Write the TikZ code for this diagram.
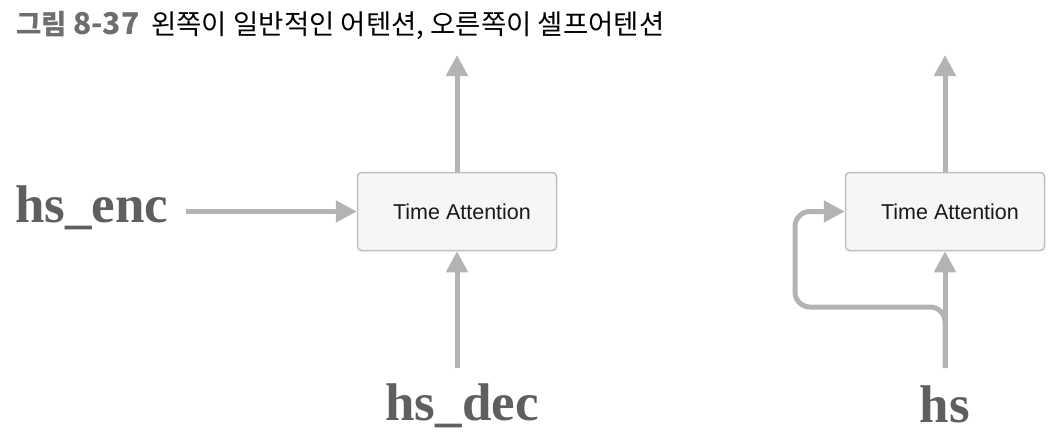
\documentclass[tikz,border=0pt]{standalone}
\usepackage{fontspec}
\setmainfont{Liberation Sans}
\newfontfamily\kr{Noto Sans CJK KR}
\newfontfamily\labserif{Liberation Serif}
\usetikzlibrary{arrows.meta}
\definecolor{arrowgray}{HTML}{B3B3B3}
\definecolor{labgray}{HTML}{5F5F5F}
\definecolor{titlegray}{HTML}{6E6E6E}
\definecolor{boxfill}{HTML}{F5F6F6}
\definecolor{boxline}{HTML}{C0C0C0}
\tikzset{
  attbox/.style={draw=boxline, line width=1.5pt, fill=boxfill, rounded corners=4pt,
    minimum width=199pt, minimum height=78pt, inner sep=0pt,
    font=\fontsize{21.5}{24}\selectfont, text=black!90},
  varlab/.style={inner sep=0pt, text=labgray, font=\labserif\bfseries\fontsize{53}{60}\selectfont},
  flow/.style={draw=arrowgray, line width=5pt, -{Triangle[length=21pt,width=21pt]}},
}
\begin{document}
\begin{tikzpicture}[x=1pt,y=-1pt]
\useasboundingbox (0,0) rectangle (1058,442);
% title
\node[anchor=base west, inner sep=0pt, font=\kr\fontsize{27.5}{30}\selectfont] (title) at (16,34)
  {{\color{titlegray}\bfseries 그림 {\fontsize{30}{30}\selectfont 8-37}}\hspace{12pt}왼쪽이 일반적인 어텐션, 오른쪽이 셀프어텐션};
% left: ordinary attention
\node[attbox] (box1) at (457,211.5) {\hspace{10pt}Time Attention};
\coordinate (out1) at (457,55);
\node[varlab, anchor=base west] (enc) at (15,222) {hs\_enc};
\node[varlab, anchor=base] (dec) at (462,420) {hs\_dec};
\coordinate (dec0) at (457,368);
\draw[flow] (box1.north) -- (out1);
\draw[flow] ([xshift=17pt]enc.east |- box1.west) -- (box1.west);
\draw[flow] (dec0) -- (box1.south);
% right: self attention
\node[attbox] (box2) at (945,211.5) {\hspace{10pt}Time Attention};
\coordinate (out2) at (945,55);
\node[varlab, anchor=base] (hs) at (945,422) {hs};
\coordinate (hs0) at (945,368);
\coordinate (loopa) at (945,307);
\coordinate (loopb) at (795,307);
\draw[flow] (box2.north) -- (out2);
\draw[flow] (hs0) -- (box2.south);
\draw[flow, rounded corners=15pt] (hs0) -- (loopa) -- (loopb) -- (loopb |- box2.west) -- (box2.west);
\end{tikzpicture}
\end{document}
